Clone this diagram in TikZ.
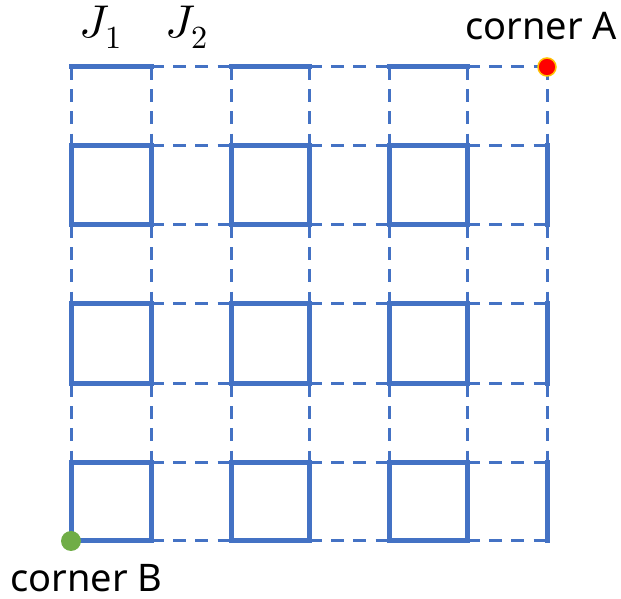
\documentclass[tikz,border=0pt]{standalone}
\usepackage{fontspec}
\usepackage{unicode-math}
\setmainfont{Noto Sans}
\setmathfont{Latin Modern Math}
\definecolor{gblue}{HTML}{4472C4}
\definecolor{gdot}{HTML}{70AD47}
\definecolor{adot}{HTML}{FF0000}
\definecolor{aring}{HTML}{FFC000}
\begin{document}
\begin{tikzpicture}[x=1pt,y=1pt,
  gridline/.style={draw=gblue, line width=3pt, dash pattern=on 12.6pt off 9.6pt},
  bond/.style={draw=gblue, line width=5pt, line join=miter, line cap=rect},
  lbl/.style={inner sep=0pt, font=\fontsize{38}{44}\selectfont},
  jlbl/.style={inner sep=0pt, font=\fontsize{46}{54}\selectfont}]
\useasboundingbox (0,0) rectangle (621,599);
% grid points p-i-j : i column (1..7), j row from top (1..7)
\foreach \x [count=\i] in {71,151,231,309,389,467,547}{
  \foreach \y [count=\j] in {532,453,374,295,215,136,58}{
    \coordinate (p-\i-\j) at (\x,\y);
  }
}
% dashed grid
\foreach \i in {1,...,7}{
  \foreach \j [evaluate=\j as \jn using int(\j+1)] in {1,...,6}{
    \draw[gridline] (p-\i-\j) -- (p-\i-\jn);
    \draw[gridline] (p-\j-\i) -- (p-\jn-\i);
  }
}
% solid squares
\foreach \i [evaluate=\i as \in using int(\i+1)] in {1,3,5}{
  \foreach \j [evaluate=\j as \jn using int(\j+1)] in {2,4,6}{
    \draw[bond] (p-\i-\j) -- (p-\in-\j) -- (p-\in-\jn) -- (p-\i-\jn) -- cycle;
  }
  \draw[bond] (p-\i-1) -- (p-\in-1);
}
\foreach \j [evaluate=\j as \jn using int(\j+1)] in {2,4,6}{
  \draw[bond] (p-7-\j) -- (p-7-\jn);
}
% corner dots
\node[circle, fill=adot, draw=aring, line width=1.5pt, minimum size=18pt, inner sep=0pt] (dA) at (p-7-1) {};
\node[circle, fill=gdot, minimum size=20pt, inner sep=0pt] (dB) at (p-1-7) {};
% labels
\node[lbl, anchor=base west] (cA) at (465,559) {corner A};
\node[lbl, anchor=base west] (cB) at (10,7) {corner B};
\node[jlbl] (J1) at (101,572) {$J_1$};
\node[jlbl] (J2) at (187,572) {$J_2$};
\end{tikzpicture}
\end{document}
